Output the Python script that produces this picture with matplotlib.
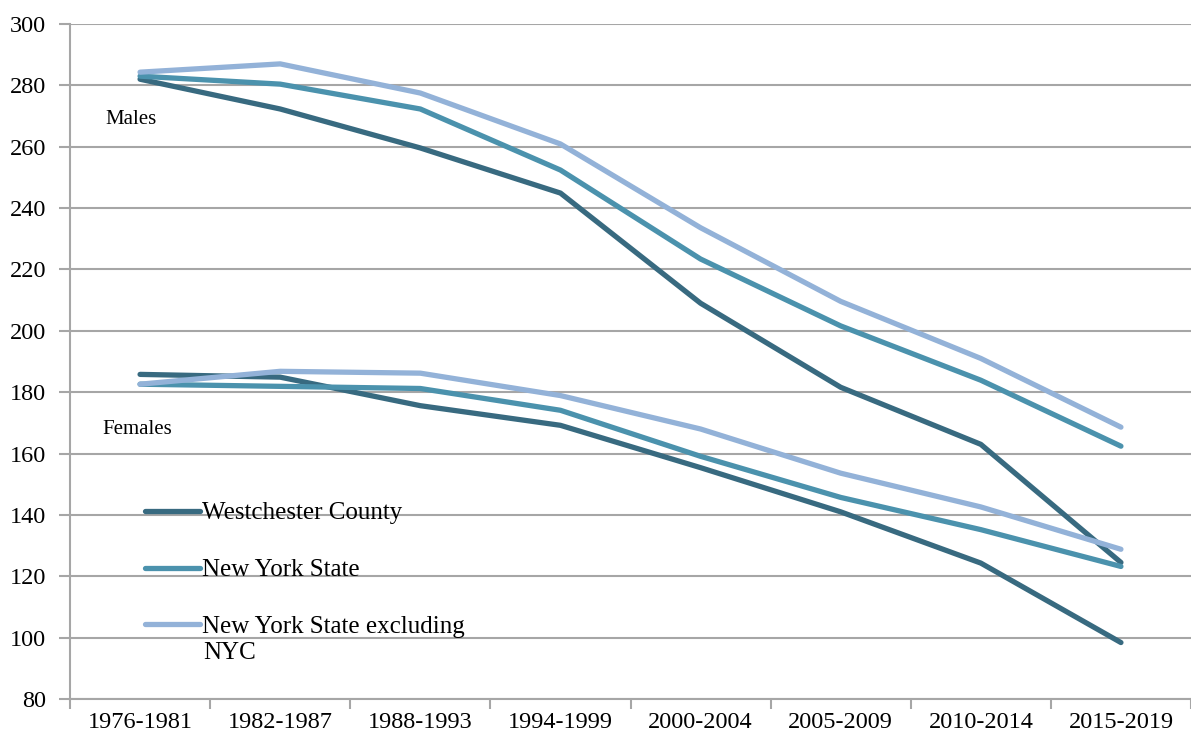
import matplotlib
matplotlib.use("Agg")
import matplotlib.pyplot as plt
import numpy as np

periods = ["1976-1981", "1982-1987", "1988-1993", "1994-1999",
           "2000-2004", "2005-2009", "2010-2014", "2015-2019"]

males_westchester = [282.0, 272.3, 259.6, 244.9, 209.0, 181.6, 163.0, 124.5]
males_nys = [283.0, 280.4, 272.3, 252.4, 223.4, 201.6, 183.9, 162.4]
males_nys_excl = [284.3, 287.0, 277.5, 260.9, 233.6, 209.6, 191.0, 168.6]

females_westchester = [185.8, 184.9, 175.6, 169.2, 155.4, 141.0, 124.3, 98.4]
females_nys = [182.6, 181.9, 181.2, 174.1, 159.1, 145.7, 135.2, 123.2]
females_nys_excl = [182.6, 186.8, 186.2, 178.9, 168.0, 153.6, 142.6, 128.8]

series_names = ["Westchester County", "New York State", "New York State excluding"]
colors = ["#386a80", "#4b92ad", "#93b2d8"]

yticks = list(range(80, 301, 20))

plt.rcParams['font.family'] = ['Liberation Serif', 'DejaVu Serif']

fig = plt.figure(figsize=(11.91, 7.44), dpi=100)
ax = fig.add_axes([70/1191, 1-699/744, 1-70/1191, (699-24)/744])

x = np.arange(len(periods))
lw = 3.8
handles = []
for m, f, c, name in zip([males_westchester, males_nys, males_nys_excl],
                         [females_westchester, females_nys, females_nys_excl],
                         colors, series_names):
    h, = ax.plot(x, m, color=c, lw=lw, solid_capstyle='round', solid_joinstyle='round', label=name, zorder=3)
    ax.plot(x, f, color=c, lw=lw, solid_capstyle='round', solid_joinstyle='round', zorder=3)
    handles.append(h)

ax.set_xlim(-0.5, len(periods) - 0.5)
ax.set_ylim(80, 300)
ax.set_yticks(yticks)
ax.set_xticks(x)
ax.set_xticklabels(periods, fontsize=17.5)
ax.set_xticks(np.arange(-0.5, len(periods), 1.0), minor=True)
ax.tick_params(axis='x', which='major', length=0, pad=9)
ax.tick_params(axis='x', which='minor', length=7, width=1.5, color='#a6a6a6', direction='out')
ax.tick_params(axis='y', length=8, width=1.5, color='#a6a6a6', direction='out', pad=9, labelsize=17.5)
ax.yaxis.grid(True, color='#a6a6a6', lw=1.5, zorder=0)
ax.set_axisbelow(True)
for s in ['top', 'right']:
    ax.spines[s].set_visible(False)
for s in ['left', 'bottom']:
    ax.spines[s].set_color('#a6a6a6')
    ax.spines[s].set_linewidth(1.5)

ax.text(-0.244, 269, "Males", fontsize=15, va='center', ha='left')
ax.text(-0.272, 167.9, "Females", fontsize=15, va='center', ha='left')

leg = ax.legend(handles=handles, loc='upper left', bbox_to_anchor=(75/1121, (699-502)/675),
                frameon=False, fontsize=18, handlelength=2.2, handletextpad=0.1,
                labelspacing=1.37, borderpad=0, borderaxespad=0)
ax.text((203-70)/1121, (699-653)/675, "NYC", fontsize=18, transform=ax.transAxes,
        va='center', ha='left')

fig.savefig("out.png", dpi=100)
